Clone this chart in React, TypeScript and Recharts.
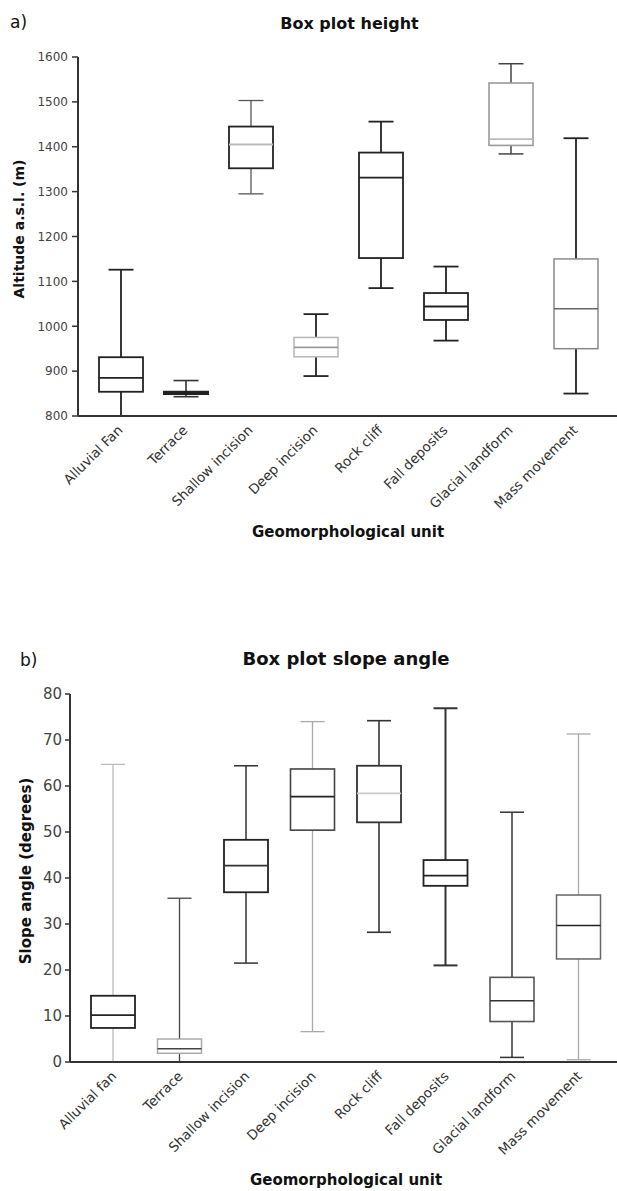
import React from 'react';
import { ComposedChart, Bar, XAxis, YAxis } from 'recharts';

// ---------- Data: chart a) Box plot height ----------
const heightCategories = ['Alluvial Fan', 'Terrace', 'Shallow incision', 'Deep incision', 'Rock cliff', 'Fall deposits', 'Glacial landform', 'Mass movement'];
const heightMin = [800, 843, 1295, 889, 1085, 968, 1384, 850];
const heightQ1 = [854, 849, 1352, 932, 1152, 1014, 1403, 950];
const heightMedian = [885, 851, 1405, 953, 1331, 1044, 1417, 1039];
const heightQ3 = [931, 854, 1445, 975, 1387, 1074, 1542, 1150];
const heightMax = [1126, 879, 1503, 1027, 1456, 1133, 1585, 1419];
const heightTicks = [800, 900, 1000, 1100, 1200, 1300, 1400, 1500, 1600];

// ---------- Data: chart b) Box plot slope angle ----------
const slopeCategories = ['Alluvial fan', 'Terrace', 'Shallow incision', 'Deep incision', 'Rock cliff', 'Fall deposits', 'Glacial landform', 'Mass movement'];
const slopeMin = [0, 0, 21.5, 6.6, 28.2, 21.0, 1.0, 0.5];
const slopeQ1 = [7.4, 1.9, 36.9, 50.4, 52.1, 38.3, 8.8, 22.4];
const slopeMedian = [10.2, 2.9, 42.7, 57.7, 58.4, 40.5, 13.3, 29.7];
const slopeQ3 = [14.4, 5.0, 48.3, 63.7, 64.4, 43.9, 18.4, 36.3];
const slopeMax = [64.7, 35.6, 64.4, 74.0, 74.2, 76.9, 54.3, 71.3];
const slopeTicks = [0, 10, 20, 30, 40, 50, 60, 70, 80];

// ---------- Styles ----------
type BoxStyle = { box: string; whisker: string; median: string; bw: number; ww: number };
const heightStyles: BoxStyle[] = [
  { box: '#222', whisker: '#222', median: '#222', bw: 1.8, ww: 1.8 },
  { box: '#222', whisker: '#333', median: '#222', bw: 2, ww: 1.6 },
  { box: '#222', whisker: '#555', median: '#bbb', bw: 1.8, ww: 1.3 },
  { box: '#bbb', whisker: '#222', median: '#999', bw: 1.6, ww: 1.8 },
  { box: '#222', whisker: '#222', median: '#222', bw: 1.8, ww: 1.8 },
  { box: '#222', whisker: '#222', median: '#222', bw: 1.8, ww: 1.8 },
  { box: '#999', whisker: '#444', median: '#bbb', bw: 1.6, ww: 1.5 },
  { box: '#888', whisker: '#222', median: '#666', bw: 1.5, ww: 1.8 },
];
const slopeStyles: BoxStyle[] = [
  { box: '#222', whisker: '#bbb', median: '#222', bw: 1.8, ww: 1.3 },
  { box: '#aaa', whisker: '#444', median: '#444', bw: 1.5, ww: 1.3 },
  { box: '#222', whisker: '#333', median: '#333', bw: 1.8, ww: 1.5 },
  { box: '#444', whisker: '#aaa', median: '#222', bw: 1.6, ww: 1.3 },
  { box: '#333', whisker: '#333', median: '#ccc', bw: 1.8, ww: 1.6 },
  { box: '#222', whisker: '#333', median: '#222', bw: 1.8, ww: 2 },
  { box: '#555', whisker: '#333', median: '#333', bw: 1.6, ww: 1.5 },
  { box: '#666', whisker: '#aaa', median: '#222', bw: 1.5, ww: 1.3 },
];

const FONT = '"DejaVu Sans", sans-serif';

function buildRows(cats: string[], mins: number[], q1s: number[], meds: number[], q3s: number[], maxs: number[]) {
  return cats.map((c, i) => ({
    name: c,
    min: mins[i],
    q1: q1s[i],
    median: meds[i],
    q3: q3s[i],
    max: maxs[i],
    range: [mins[i], maxs[i]],
  }));
}

const heightRows = buildRows(heightCategories, heightMin, heightQ1, heightMedian, heightQ3, heightMax);
const slopeRows = buildRows(slopeCategories, slopeMin, slopeQ1, slopeMedian, slopeQ3, slopeMax);

function makeBoxShape(cats: string[], styles: BoxStyle[], boxW: number, capW: number) {
  return (props: any) => {
    const { x, y, width, height, payload } = props;
    if (!payload) return null;
    const i = cats.indexOf(payload.name);
    const st = styles[i] || styles[0];
    const span = payload.max - payload.min;
    const k = span > 0 ? height / span : 0;
    const py = (v: number) => y + (payload.max - v) * k;
    const cx = x + width / 2;
    const yMax = py(payload.max);
    const yQ3 = py(payload.q3);
    const yMed = py(payload.median);
    const yQ1 = py(payload.q1);
    const yMin = py(payload.min);
    return (
      <g>
        <line x1={cx} x2={cx} y1={yMax} y2={yQ3} stroke={st.whisker} strokeWidth={st.ww} />
        <line x1={cx} x2={cx} y1={yQ1} y2={yMin} stroke={st.whisker} strokeWidth={st.ww} />
        <line x1={cx - capW / 2} x2={cx + capW / 2} y1={yMax} y2={yMax} stroke={st.whisker} strokeWidth={st.ww} />
        <line x1={cx - capW / 2} x2={cx + capW / 2} y1={yMin} y2={yMin} stroke={st.whisker} strokeWidth={st.ww} />
        <rect x={cx - boxW / 2} y={yQ3} width={boxW} height={Math.max(yQ1 - yQ3, 0.5)} fill="#fff" stroke={st.box} strokeWidth={st.bw} />
        <line x1={cx - boxW / 2} x2={cx + boxW / 2} y1={yMed} y2={yMed} stroke={st.median} strokeWidth={st.bw} />
      </g>
    );
  };
}

const RotTick = (props: any) => {
  const { x, y, payload, fs, dx, dy } = props;
  return (
    <g transform={`translate(${x + dx},${y + dy})`}>
      <text x={0} y={0} textAnchor="end" transform="rotate(-45)" fontSize={fs} fontFamily={FONT} fill="#333">
        {payload.value}
      </text>
    </g>
  );
};

export default function App() {
  return (
    <div style={{ position: 'absolute', left: 0, top: 0, width: 617, height: 1191, background: '#fff', overflow: 'hidden' }}>
      {/* Chart a */}
      <div style={{ position: 'absolute', left: 0, top: 0 }}>
        <ComposedChart width={617} height={560} data={heightRows} margin={{ top: 57, right: 0, bottom: 0, left: 0 }}>
          <XAxis
            dataKey="name"
            type="category"
            interval={0}
            height={144}
            padding={{ left: 10, right: 9 }}
            tickLine={false}
            tickSize={0}
            tickMargin={0}
            axisLine={{ stroke: '#333', strokeWidth: 2 }}
            tick={<RotTick fs={13.5} dx={3} dy={15} />}
          />
          <YAxis
            type="number"
            domain={[800, 1600]}
            ticks={heightTicks}
            interval={0}
            allowDataOverflow
            width={78}
            tickSize={6}
            tickMargin={4}
            axisLine={{ stroke: '#333', strokeWidth: 2 }}
            tickLine={{ stroke: '#333', strokeWidth: 1.5 }}
            tick={{ fontSize: 12, fill: '#444', fontFamily: FONT }}
          />
          <Bar dataKey="range" barSize={44} isAnimationActive={false} shape={makeBoxShape(heightCategories, heightStyles, 44, 25)} />
        </ComposedChart>
      </div>

      {/* Chart b */}
      <div style={{ position: 'absolute', left: 0, top: 600 }}>
        <ComposedChart width={617} height={591} data={slopeRows} margin={{ top: 94, right: 0, bottom: 0, left: 0 }}>
          <XAxis
            dataKey="name"
            type="category"
            interval={0}
            height={129}
            padding={{ left: 10, right: 5 }}
            tickLine={false}
            tickSize={0}
            tickMargin={0}
            axisLine={{ stroke: '#333', strokeWidth: 2 }}
            tick={<RotTick fs={13.5} dx={4} dy={15} />}
          />
          <YAxis
            type="number"
            domain={[0, 80]}
            ticks={slopeTicks}
            interval={0}
            allowDataOverflow
            width={70}
            tickSize={5}
            tickMargin={3}
            axisLine={{ stroke: '#333', strokeWidth: 2 }}
            tickLine={{ stroke: '#333', strokeWidth: 1.5 }}
            tick={{ fontSize: 15, fill: '#444', fontFamily: FONT }}
          />
          <Bar dataKey="range" barSize={44} isAnimationActive={false} shape={makeBoxShape(slopeCategories, slopeStyles, 44, 24)} />
        </ComposedChart>
      </div>

      {/* Titles and axis labels */}
      <svg width={617} height={1191} style={{ position: 'absolute', left: 0, top: 0, pointerEvents: 'none' }}>
        <text x={10} y={28} fontSize={17} fontFamily={FONT} fill="#111">a)</text>
        <text x={349.5} y={29} fontSize={16} fontWeight="bold" textAnchor="middle" fontFamily={FONT} fill="#111">Box plot height</text>
        <text x={24} y={229} fontSize={14} fontWeight="bold" textAnchor="middle" fontFamily={FONT} fill="#111" transform="rotate(-90 24 229)">Altitude a.s.l. (m)</text>
        <text x={348} y={537} fontSize={15} fontWeight="bold" textAnchor="middle" fontFamily={FONT} fill="#111">Geomorphological unit</text>

        <text x={20} y={666} fontSize={17} fontFamily={FONT} fill="#111">b)</text>
        <text x={346} y={665} fontSize={18} fontWeight="bold" textAnchor="middle" fontFamily={FONT} fill="#111">Box plot slope angle</text>
        <text x={31} y={871} fontSize={15} fontWeight="bold" textAnchor="middle" fontFamily={FONT} fill="#111" transform="rotate(-90 31 871)">Slope angle (degrees)</text>
        <text x={346} y={1185} fontSize={15} fontWeight="bold" textAnchor="middle" fontFamily={FONT} fill="#111">Geomorphological unit</text>
      </svg>
    </div>
  );
}
